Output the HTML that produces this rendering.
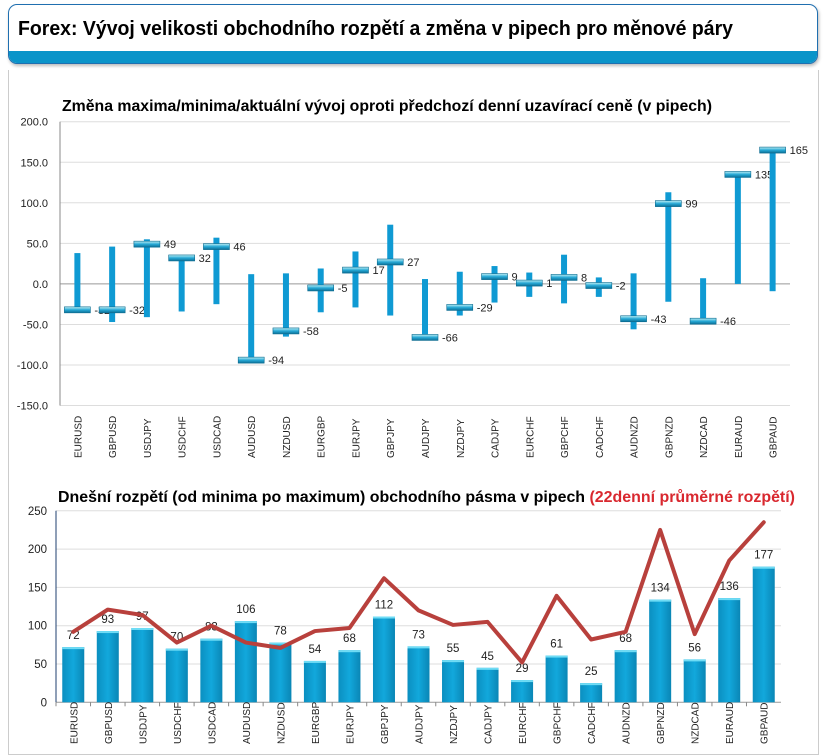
<!DOCTYPE html>
<html><head><meta charset="utf-8">
<style>
body{margin:0;width:826px;height:756px;background:#fff;font-family:"Liberation Sans",sans-serif;overflow:hidden;position:relative}
#hdr{position:absolute;left:8px;top:4px;width:808px;height:58px;border:1.5px solid #1f6fb0;border-radius:9px;overflow:hidden;background:#fff;box-shadow:1px 2px 3px #bbb}
#hdr .band{position:absolute;left:0;right:0;bottom:0;height:12px;background:#0a94c9}
#panel{position:absolute;left:8px;top:70px;width:809px;height:684px;border-left:1.5px solid #ccc;border-right:1.5px solid #ccc;border-bottom:1.5px solid #ccc}
svg{position:absolute;left:0;top:0}
</style></head><body>
<div id="hdr"><div class="band"></div></div>
<div id="panel"></div>
<svg id="svg" width="826" height="756">
<defs>
<linearGradient id="mk" x1="0" y1="0" x2="0" y2="1"><stop offset="0" stop-color="#bff0f5"/><stop offset="0.5" stop-color="#27a9d6"/><stop offset="1" stop-color="#0c6f96"/></linearGradient>
<linearGradient id="bg" x1="0" y1="0" x2="1" y2="0"><stop offset="0" stop-color="#0b8fc0"/><stop offset="0.5" stop-color="#12a8dc"/><stop offset="1" stop-color="#0a86b5"/></linearGradient>
</defs>
<text x="18" y="35" font-size="20" font-weight="bold" textLength="715" lengthAdjust="spacingAndGlyphs">Forex: Vývoj velikosti obchodního rozpětí a změna v pipech pro měnové páry</text>
<text x="62" y="111" font-size="15.5" font-weight="bold" textLength="650" lengthAdjust="spacingAndGlyphs">Změna maxima/minima/aktuální vývoj oproti předchozí denní uzavírací ceně (v pipech)</text>
<text x="58" y="502" font-size="15.5" font-weight="bold" textLength="737" lengthAdjust="spacingAndGlyphs">Dnešní rozpětí (od minima po maximum) obchodního pásma v pipech <tspan fill="#d9282f">(22denní průměrné rozpětí)</tspan></text>
</svg>
<script>
const pairs=["EURUSD","GBPUSD","USDJPY","USDCHF","USDCAD","AUDUSD","NZDUSD","EURGBP","EURJPY","GBPJPY","AUDJPY","NZDJPY","CADJPY","EURCHF","GBPCHF","CADCHF","AUDNZD","GBPNZD","NZDCAD","EURAUD","GBPAUD"];
const highs=[38,46,55,32,57,12,13,19,40,73,6,15,22,14,36,8,13,113,7,135,165];
const lows=[-32,-47,-41,-34,-25,-94,-65,-35,-29,-39,-66,-39,-23,-16,-24,-16,-56,-22,-46,0,-9];
const current=[-32,-32,49,32,46,-94,-58,-5,17,27,-66,-29,9,1,8,-2,-43,99,-46,135,165];
const topTicks=[200,150,100,50,0,-50,-100,-150];
const ranges=[72,93,97,70,83,106,78,54,68,112,73,55,45,29,61,25,68,134,56,136,177];
const avg22=[92,121,114,78,100,78,71,93,97,162,120,101,105,52,139,82,92,225,89,185,235];
const botTicks=[0,50,100,150,200,250];
</script>
<script>
const NS="http://www.w3.org/2000/svg",svg=document.getElementById('svg');
function mk(t,a,p){const e=document.createElementNS(NS,t);for(const k in a)e.setAttribute(k,a[k]);(p||svg).appendChild(e);return e;}
const n=pairs.length;
const tX0=60,tX1=790,tY=v=>283.9-v*0.811,tBand=(tX1-tX0)/n,tX=i=>tX0+tBand*(i+0.5);
topTicks.forEach(v=>{
 const g=mk('line',{x1:tX0,x2:tX1,y1:tY(v),y2:tY(v),stroke:v===0?'#999':'#ddd','stroke-width':1});
 
 
 const t=mk('text',{x:tX0-12,y:tY(v)+4,'font-size':11,'text-anchor':'end',fill:'#222'});t.textContent=v.toFixed(1);
 
 
});
const ax=mk('line',{x1:tX0,x2:tX0,y1:tY(200),y2:tY(-150),stroke:'#888'});


pairs.forEach((p,i)=>{
 const x=tX(i);
 const r=mk('rect',{x:x-3,y:tY(highs[i]),width:6,height:tY(lows[i])-tY(highs[i]),fill:'#0f9ad3'});
 
 
 const m=mk('rect',{x:x-13,y:tY(current[i])-3,width:26,height:6,fill:'url(#mk)',stroke:'#0a6a8f','stroke-width':0.6});
 
 
 const l=mk('text',{x:x+17,y:tY(current[i])+4,'font-size':11,fill:'#222'});l.textContent=current[i];
 
 
 const c=mk('text',{transform:`translate(${x+4},${458}) rotate(-90)`,'font-size':10,fill:'#222'});c.textContent=p;
 
 
});
const bX0=56,bX1=781,bY=v=>702.3-v*0.766,bBand=(bX1-bX0)/n,bX=i=>bX0+bBand*(i+0.5);
botTicks.forEach(v=>{
 const g=mk('line',{x1:bX0,x2:bX1,y1:bY(v),y2:bY(v),stroke:v===0?'#999':'#ddd'});
 
 
 const t=mk('text',{x:bX0-9,y:bY(v)+4,'font-size':11.5,'text-anchor':'end',fill:'#222'});t.textContent=v;
 
 
});
const bax=mk('line',{x1:bX0,x2:bX0,y1:bY(250),y2:bY(0),stroke:'#1f3f6f'});


pairs.forEach((p,i)=>{
 const x=bX(i);
 const tk=mk('line',{x1:bX0+bBand*i,x2:bX0+bBand*i,y1:bY(0),y2:bY(0)+4,stroke:'#888'});
 
 
 const r=mk('rect',{x:x-11,y:bY(ranges[i]),width:22,height:bY(0)-bY(ranges[i]),fill:'url(#bg)'});
 
 
 const h=mk('rect',{x:x-11,y:bY(ranges[i]),width:22,height:2,fill:'#6fdcf5'});
 
 
 const l=mk('text',{x:x,y:bY(ranges[i])-8,'font-size':11.5,'text-anchor':'middle',fill:'#222'});l.textContent=ranges[i];
 
 
 const c=mk('text',{transform:`translate(${x+4},${744}) rotate(-90)`,'font-size':10,fill:'#222'});c.textContent=p;
 
 
});
const pl=mk('polyline',{points:avg22.map((v,i)=>bX(i)+','+bY(v)).join(' '),fill:'none',stroke:'#b8403c','stroke-width':4,'stroke-linejoin':'round','stroke-linecap':'round'});


</script>
</body></html>
